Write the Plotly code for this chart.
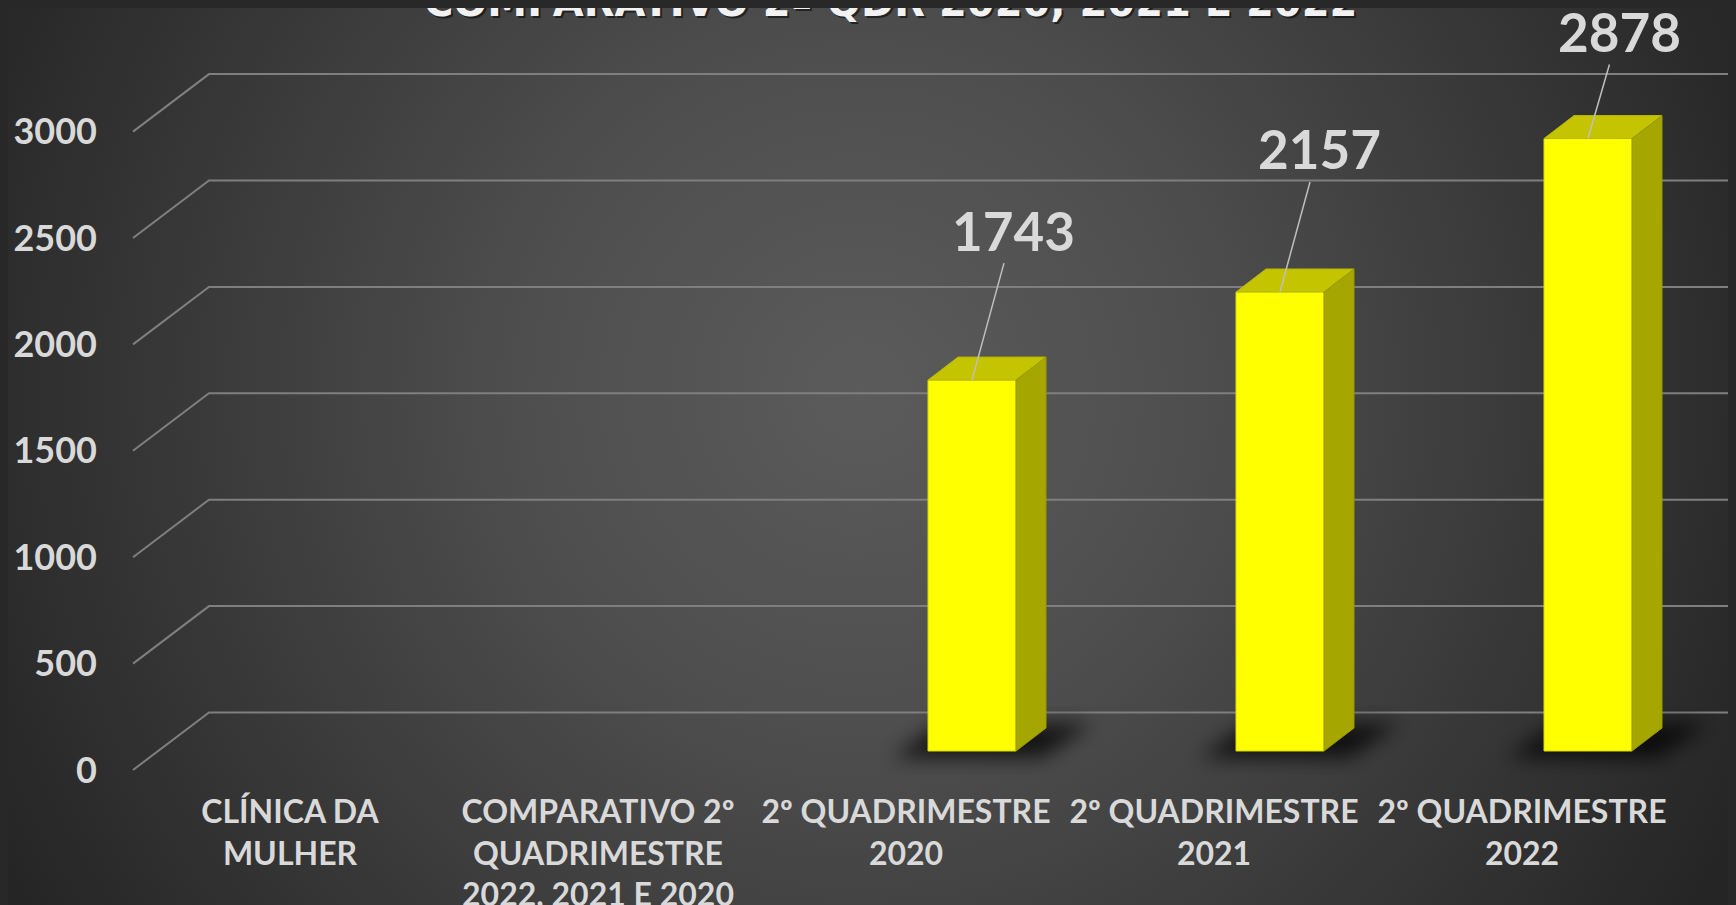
import base64
import plotly.graph_objects as go

# ---------------- data ----------------
categories = [
    "CLÍNICA DA<br>MULHER",
    "COMPARATIVO 2º<br>QUADRIMESTRE<br>2022, 2021 E 2020",
    "2º QUADRIMESTRE<br>2020",
    "2º QUADRIMESTRE<br>2021",
    "2º QUADRIMESTRE<br>2022",
]
values = [None, None, 1743, 2157, 2878]
y_ticks = [0, 500, 1000, 1500, 2000, 2500, 3000]
title_text = "COMPARATIVO 2º QDR 2020, 2021 E 2022"

# ---------------- geometry / style ----------------
W, H = 1736, 905
OFF = 8                       # default page margin of the html body
ML = 120 - OFF                # plot area left edge (figure px)
PB = 780 - OFF                # plot area bottom (figure px)
MB = H - PB
PW, PH = W - ML, PB
S = 0.2128                    # px per value unit
Y0 = 770 - OFF                # figure px of value 0 on front plane
CAT_PX, CAT0_PX = 308, 290 - OFF

def dx(px):
    return px / CAT_PX

def dy(px):
    return px / S

x_range = [(ML - CAT0_PX) / CAT_PX, (W - CAT0_PX) / CAT_PX]
y_range = [(Y0 - PH) / S, Y0 / S]

DEPTH_X, DEPTH_Y = dx(76), dy(57.5)
GRID_X0 = (133 - OFF - CAT0_PX) / CAT_PX
BASE = dy(19)
BAR_OFF, BAR_W = dx(22), dx(88)
SIDE_X, SIDE_Y = dx(30), dy(23)
label_offsets = [None, None, (41, -150), (39, -143), (31, -107)]

FONT = "Lato, 'Open Sans', sans-serif"
TXT = "#D9D9D9"
FRONT, TOP, SIDE = "#FFFF00", "#C4C400", "#A6A600"

fig = go.Figure()

# gridlines (side wall + back wall) as shapes below the traces
shapes = []
for t in y_ticks:
    x0, y0 = GRID_X0, t
    x1, y1 = GRID_X0 + DEPTH_X, t + DEPTH_Y
    x2 = x_range[1] + 0.05
    shapes.append(dict(type="path", xref="x", yref="y", layer="below",
                       path=f"M {x0},{y0} L {x1},{y1} L {x2},{y1}",
                       line=dict(color="#7f7f7f", width=2)))

# front faces
idx = list(range(len(categories)))
fig.add_trace(go.Bar(
    x=idx, y=values, base=BASE, width=BAR_W, offset=BAR_OFF,
    marker=dict(color=FRONT, line=dict(color="#D8D800", width=1)),
    showlegend=False, hovertemplate="%{y}<extra></extra>"))

# top and side faces
for i, v in enumerate(values):
    if v is None:
        continue
    xl = i + BAR_OFF
    xr = xl + BAR_W
    top = BASE + v
    fig.add_trace(go.Scatter(
        x=[xl, xr, xr + SIDE_X, xl + SIDE_X, xl],
        y=[top, top, top + SIDE_Y, top + SIDE_Y, top],
        fill="toself", fillcolor=TOP, mode="lines",
        line=dict(color="#B8B800", width=1),
        hoverinfo="skip", showlegend=False))
    fig.add_trace(go.Scatter(
        x=[xr, xr + SIDE_X, xr + SIDE_X, xr, xr],
        y=[BASE, BASE + SIDE_Y, top + SIDE_Y, top, BASE],
        fill="toself", fillcolor=SIDE, mode="lines",
        line=dict(color="#9A9A00", width=1),
        hoverinfo="skip", showlegend=False))

# background gradient (figure px coordinates)
bg_svg = (
    f'<svg xmlns="http://www.w3.org/2000/svg" width="{W}" height="{H}" '
    f'viewBox="0 0 {W} {H}" preserveAspectRatio="none">'
    f'<defs><radialGradient id="g" gradientUnits="userSpaceOnUse" cx="{860 - OFF}" cy="{390 - OFF}" r="980">'
    '<stop offset="0" stop-color="#5b5b5b"/>'
    '<stop offset="0.35" stop-color="#4e4e4e"/>'
    '<stop offset="1" stop-color="#252525"/>'
    '</radialGradient></defs>'
    f'<rect width="{W}" height="{H}" fill="url(#g)"/></svg>')
shadow_svg = (
    '<svg xmlns="http://www.w3.org/2000/svg" width="300" height="100" viewBox="0 0 300 100">'
    '<defs><filter id="b" x="-50%" y="-50%" width="200%" height="200%">'
    '<feGaussianBlur stdDeviation="10"/></filter></defs>'
    '<path d="M 55,68 L 205,68 L 255,34 L 105,34 Z" fill="#000" fill-opacity="0.75" filter="url(#b)"/></svg>')

def uri(svg):
    return "data:image/svg+xml;base64," + base64.b64encode(svg.encode()).decode()

images = [dict(source=uri(bg_svg), xref="paper", yref="paper",
               x=-ML / PW, y=1, sizex=W / PW, sizey=H / PH,
               xanchor="left", yanchor="top", sizing="stretch", layer="below")]
for i, v in enumerate(values):
    if v is None:
        continue
    images.append(dict(source=uri(shadow_svg), xref="x", yref="y",
                       x=i + BAR_OFF + BAR_W / 2 + SIDE_X / 2,
                       y=BASE + SIDE_Y / 2,
                       sizex=dx(300), sizey=dy(100),
                       xanchor="center", yanchor="middle",
                       sizing="stretch", layer="below"))

annotations = []
for i, v in enumerate(values):
    if v is None:
        continue
    ox, oy = label_offsets[i]
    annotations.append(dict(
        x=i + BAR_OFF + BAR_W / 2, y=BASE + v, xref="x", yref="y",
        text=f"<b>{v}</b>", showarrow=True, arrowhead=0, arrowwidth=1.5,
        arrowcolor="#BFBFBF", ax=ox, ay=oy, standoff=0,
        font=dict(family=FONT, size=53, color=TXT, weight=700)))

title_x = (890 - OFF - ML) / PW
title_y = (PH - (2 - OFF)) / PH
for shift, col in [((2, -2), "rgba(0,0,0,0.55)"), ((0, 0), "#F2F2F2")]:
    annotations.append(dict(
        x=title_x, y=title_y, xref="paper", yref="paper",
        text=title_text, showarrow=False, xanchor="center", yanchor="middle",
        xshift=shift[0], yshift=shift[1],
        font=dict(family="'DejaVu Sans', sans-serif", size=40, color=col, weight=700)))

fig.update_layout(
    width=W, height=H, autosize=False,
    margin=dict(l=ML, r=0, t=0, b=MB, pad=0),
    paper_bgcolor="#2a2a2a", plot_bgcolor="rgba(0,0,0,0)",
    images=images, annotations=annotations, shapes=shapes,
    xaxis=dict(range=x_range, tickvals=idx, ticktext=categories,
               showgrid=False, zeroline=False, showline=False, ticks="",
               ticklabelstandoff=10,
               tickfont=dict(family=FONT, size=32, color=TXT, weight=700)),
    yaxis=dict(range=y_range, tickvals=y_ticks, ticktext=[str(t) for t in y_ticks],
               showgrid=False, zeroline=False, showline=False, ticks="",
               ticklabelstandoff=22,
               tickfont=dict(family=FONT, size=36, color=TXT, weight=700)),
    showlegend=False,
)

fig.write_html(
    "out.html",
    config={"displayModeBar": False, "responsive": False},
    post_script="document.body.style.background='#282828';")
